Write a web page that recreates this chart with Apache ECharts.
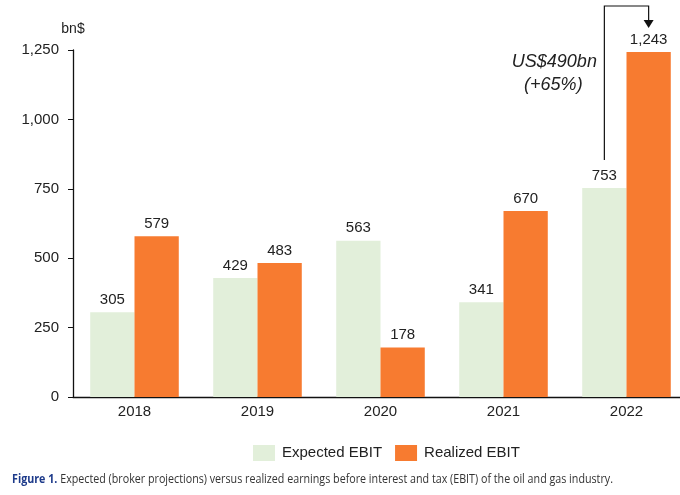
<!DOCTYPE html>
<html><head><meta charset="utf-8">
<script src="https://cdn.jsdelivr.net/npm/echarts@6/dist/echarts.min.js"></script>
<style>html,body{margin:0;padding:0;background:#fff}#c{width:680px;height:495px}</style>
</head><body><div id="c"></div>
<script>
const categories = ['2018','2019','2020','2021','2022'];
const expectedEBIT = [305, 429, 563, 341, 753];
const realizedEBIT = [579, 483, 178, 670, 1243];
const yTicks = [0, 250, 500, 750, 1000, 1250];
const annotationLines = ['US$490bn', '(+65%)'];
const captionBold = 'Figure 1.';
const captionText = ' Expected (broker projections) versus realized earnings before interest and tax (EBIT) of the oil and gas industry.';

const font = 'Liberation Sans, Arial, sans-serif';
const capFont = 'Open Sans, Noto Sans, sans-serif';
const chart = echarts.init(document.getElementById('c'));
const fmt = v => v.toLocaleString('en-US');

// measure caption to fit reference width
const cv = document.createElement('canvas').getContext('2d');
cv.font = 'bold 12px ' + capFont;
const wB = cv.measureText(captionBold).width;
cv.font = '12px ' + capFont;
const wT = cv.measureText(captionText).width;
const capScale = 601 / (wB + wT);

chart.setOption({
  animation: false,
  textStyle: {fontFamily: font},
  legend: {
    top: 440, left: 248,
    icon: 'rect',
    itemWidth: 22, itemHeight: 16, itemGap: 13,
    textStyle: {fontSize: 15, color: '#222', fontFamily: font, padding: [0, 0, 0, 2]},
    data: ['Expected EBIT', 'Realized EBIT']
  },
  grid: {left: 73, top: 50, width: 615, height: 347, containLabel: false, outerBoundsMode: 'none'},
  xAxis: {
    type: 'category', data: categories,
    axisLine: {lineStyle: {color: '#111', width: 1.3}},
    axisTick: {show: false},
    axisLabel: {fontSize: 15, color: '#222', margin: 7}
  },
  yAxis: {
    type: 'value', min: 0, max: 1250, interval: 250,
    name: 'bn$', nameLocation: 'end', nameGap: 14,
    nameTextStyle: {fontSize: 14, color: '#222', align: 'center'},
    axisLine: {show: true, lineStyle: {color: '#111', width: 1.3}},
    axisTick: {show: true, length: 5, lineStyle: {color: '#111'}},
    splitLine: {show: false},
    axisLabel: {fontSize: 15, color: '#222', margin: 14, formatter: v => yTicks.includes(v) ? fmt(v) : ''}
  },
  series: [
    {name: 'Expected EBIT', type: 'bar', data: expectedEBIT, barGap: '0%', barCategoryGap: '28%',
     itemStyle: {color: '#e2efda'},
     label: {show: true, position: 'top', distance: 5, fontSize: 15, color: '#222', formatter: p => fmt(p.value)}},
    {name: 'Realized EBIT', type: 'bar', data: realizedEBIT,
     itemStyle: {color: '#f77b30'},
     label: {show: true, position: 'top', distance: 5, fontSize: 15, color: '#222', formatter: p => fmt(p.value)}}
  ]
});

// Annotation built from bar layouts of 2022
const last = categories.length - 1;
const lE = chart.getModel().getSeriesByIndex(0).getData().getItemLayout(last);
const lR = chart.getModel().getSeriesByIndex(1).getData().getItemLayout(last);
const xE = lE.x + lE.width / 2, xR = lR.x + lR.width / 2;
const topE = lE.y + lE.height; // height negative
const topR = lR.y + lR.height;
const yTop = 6;
chart.setOption({
  graphic: [
    {type: 'polyline', shape: {points: [[xE, topE - 28], [xE, yTop], [xR, yTop], [xR, topR - 30]]},
     style: {stroke: '#111', lineWidth: 1.2, fill: null}},
    {type: 'polygon', shape: {points: [[xR - 5, topR - 32], [xR + 5, topR - 32], [xR, topR - 24]]},
     style: {fill: '#111'}},
    {type: 'text', x: xE - 50, y: 62, style: {text: annotationLines[0], fontSize: 18, fontStyle: 'italic', fill: '#222', align: 'center', verticalAlign: 'middle', fontFamily: font}},
    {type: 'text', x: xE - 51, y: 85, style: {text: annotationLines[1], fontSize: 18, fontStyle: 'italic', fill: '#222', align: 'center', verticalAlign: 'middle', fontFamily: font}},
    {type: 'text', x: 12, y: 480, scaleX: capScale,
     style: {text: '{b|' + captionBold + '}{n|' + captionText + '}', verticalAlign: 'middle', align: 'left',
       rich: {b: {fontFamily: capFont, fontSize: 12, fontWeight: 'bold', fill: '#1d3a8a', color: '#1d3a8a'},
              n: {fontFamily: capFont, fontSize: 12, fill: '#333', color: '#333'}}}}
  ]
});
</script></body></html>
